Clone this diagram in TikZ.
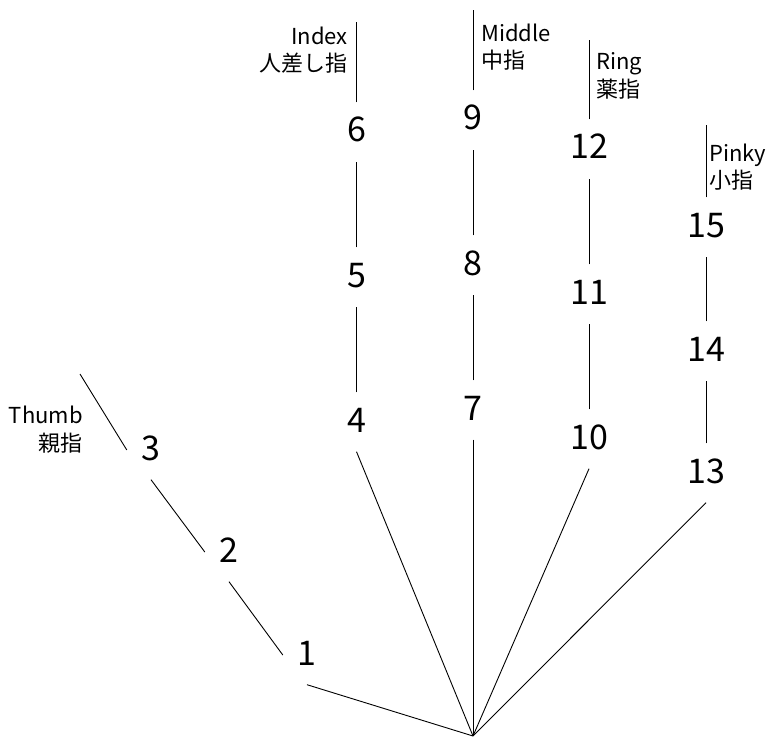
\documentclass[tikz,border=0pt]{standalone}
\usepackage{fontspec}
\setmainfont{Noto Sans CJK JP}
\begin{document}
\begin{tikzpicture}[x=1pt,y=-1pt,
  num/.style={font=\fontsize{34}{40}\selectfont, inner sep=0pt, text height=39.5pt, text depth=19.5pt, minimum width=48pt, anchor=base},
  lab/.style={font=\fontsize{22}{26}\selectfont, inner sep=0pt},
  bone/.style={line width=0.9pt, black}]
\useasboundingbox (0,0) rectangle (771,746);
% thumb
\node[num] (n1) at (307,665) {1};
\node[num] (n2) at (229,562) {2};
\node[num] (n3) at (151,460) {3};
% index
\node[num] (n4) at (356.5,432) {4};
\node[num] (n5) at (356.5,287) {5};
\node[num] (n6) at (356.5,142) {6};
% middle
\node[num] (n7) at (473,420) {7};
\node[num] (n8) at (473,275) {8};
\node[num] (n9) at (473,130) {9};
% ring
\node[num] (n10) at (589,449) {10};
\node[num] (n11) at (589,304) {11};
\node[num] (n12) at (589,159) {12};
% pinky
\node[num] (n13) at (706,483) {13};
\node[num] (n14) at (706,361) {14};
\node[num] (n15) at (706,237) {15};
% free ends
\coordinate (wrist) at (473,736);
\coordinate (thumbtip) at (80,374);
\coordinate (indextip) at (356.5,22);
\coordinate (middletip) at (473,10);
\coordinate (ringtip) at (589,40);
\coordinate (pinkytip) at (706,125);
% labels
\node[lab, anchor=base east] (thumben) at (83,423) {Thumb};
\node[lab, anchor=base east] (thumbja) at (83,451) {親指};
\node[lab, anchor=base east] (indexen) at (348,45) {Index};
\node[lab, anchor=base east] (indexja) at (348,72) {人差し指};
\node[lab, anchor=base west] (middleen) at (481,42) {Middle};
\node[lab, anchor=base west] (middleja) at (481,69) {中指};
\node[lab, anchor=base west] (ringen) at (596,70) {Ring};
\node[lab, anchor=base west] (ringja) at (596,98) {薬指};
\node[lab, anchor=base west] (pinkyen) at (709,162) {Pinky};
\node[lab, anchor=base west] (pinkyja) at (709,189) {小指};
% bones
\draw[bone] (n1.south) -- (wrist);
\draw[bone] (n4.south) -- (wrist);
\draw[bone] (n7.south) -- (wrist);
\draw[bone] (n10.south) -- (wrist);
\draw[bone] (n13.south) -- (wrist);
\draw[bone] (n2.south) -- (n1.west);
\draw[bone] (n3.south) -- (n2.west);
\draw[bone] (n3.west) -- (thumbtip);
\draw[bone] (n4.north) -- (n5.south);
\draw[bone] (n5.north) -- (n6.south);
\draw[bone] (n6.north) -- (indextip);
\draw[bone] (n7.north) -- (n8.south);
\draw[bone] (n8.north) -- (n9.south);
\draw[bone] (n9.north) -- (middletip);
\draw[bone] (n10.north) -- (n11.south);
\draw[bone] (n11.north) -- (n12.south);
\draw[bone] (n12.north) -- (ringtip);
\draw[bone] (n13.north) -- (n14.south);
\draw[bone] (n14.north) -- (n15.south);
\draw[bone] (n15.north) -- (pinkytip);
\end{tikzpicture}
\end{document}
